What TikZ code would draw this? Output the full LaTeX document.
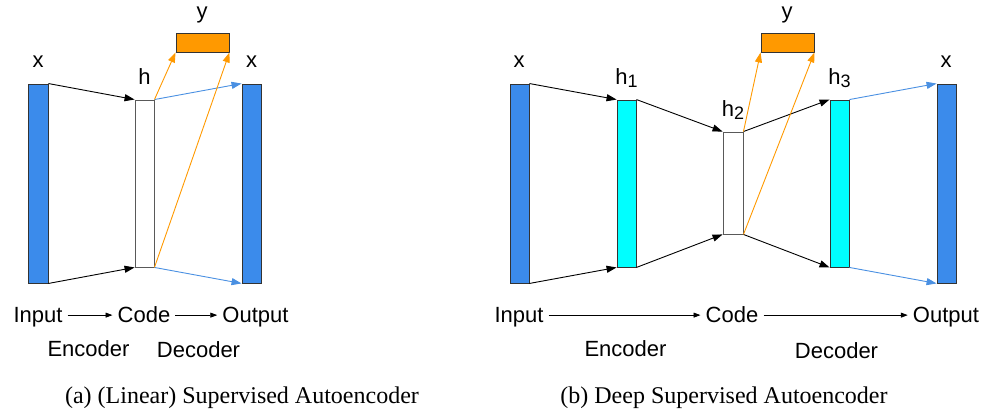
\documentclass[tikz,border=0pt]{standalone}
\usepackage{fontspec}
\setmainfont{Liberation Serif}
\newfontfamily\lsans{Liberation Sans}
\usetikzlibrary{arrows.meta}
\definecolor{barblue}{RGB}{59,139,235}
\definecolor{arrblue}{RGB}{74,144,226}
\definecolor{ora}{RGB}{255,153,0}
\definecolor{cyanb}{RGB}{0,255,255}
\newcommand{\sbs}[1]{{\fontsize{18}{18}\selectfont\raisebox{-3pt}{#1}}}
\begin{document}
\begin{tikzpicture}[x=1pt,y=-1pt,
  bar/.style={draw=black!80,line width=0.9pt,inner sep=0pt,minimum width=19pt},
  inbar/.style={bar,fill=barblue,minimum height=199pt},
  hid/.style={bar,fill=cyanb,minimum height=167pt},
  codebox/.style={bar,draw=black!65,fill=white},
  ybox/.style={bar,fill=ora,minimum width=53pt,minimum height=19pt},
  lbl/.style={font=\lsans\fontsize{22}{22}\selectfont,inner sep=0pt,anchor=base},
  btxt/.style={font=\lsans\fontsize{22}{22}\selectfont,inner ysep=0pt,inner xsep=5pt,text height=15.75pt,text depth=0pt,anchor=base},
  captxt/.style={font=\fontsize{24}{24}\selectfont,inner sep=0pt,anchor=base},
  blk/.style={draw=black,line width=0.9pt,-{Triangle[length=10pt,width=7pt]}},
  blu/.style={draw=arrblue,line width=0.9pt,-{Triangle[length=10pt,width=7pt]}},
  org/.style={draw=ora,line width=0.9pt,-{Triangle[length=10pt,width=7pt]}},
  barr/.style={draw=black,line width=0.8pt,-{Triangle[length=7pt,width=5pt]}}
]
\useasboundingbox (0,0) rectangle (984,411);
% ---------- panel (a) ----------
\node[inbar,minimum width=20pt] (ainp) at (38,183.5) {};
\node[codebox,minimum height=167pt] (ah) at (144.5,183.5) {};
\node[ybox] (ay) at (202.5,42.5) {};
\node[inbar] (aout) at (251.5,183.5) {};
\draw[blk] (ainp.north east) -- (ah.north west);
\draw[blk] (ainp.south east) -- (ah.south west);
\draw[blu] (ah.north east) -- (aout.north west);
\draw[blu] (ah.south east) -- (aout.south west);
\draw[org] (ah.north east) -- (ay.south west);
\draw[org] (ah.south east) -- (ay.south east);
\node[lbl] (axl) at (38,68) {x};
\node[lbl] (ahl) at (144.5,85) {h};
\node[lbl] (ayl) at (202,18.5) {y};
\node[lbl] (axr) at (251.5,68) {x};
\node[btxt] (ainT) at (38,323) {Input};
\node[btxt] (acoT) at (144,323) {Code};
\node[btxt] (aouT) at (255.5,323) {Output};
\draw[barr] (ainT.east) -- (acoT.west);
\draw[barr] (acoT.east) -- (aouT.west);
\node[lbl] (aenc) at (88.5,356) {Encoder};
\node[lbl] (adec) at (198.5,357) {Decoder};
\node[captxt] (acap) at (242,403) {(a) (Linear) Supervised Autoencoder};
% ---------- panel (b) ----------
\node[inbar] (binp) at (519.5,183.5) {};
\node[hid] (bh1) at (626.5,183.5) {};
\node[codebox,minimum width=20pt,minimum height=102pt] (bh2) at (733,183) {};
\node[hid] (bh3) at (839.5,183.5) {};
\node[ybox] (by) at (787.5,42.5) {};
\node[inbar] (bout) at (946.5,183.5) {};
\draw[blk] (binp.north east) -- (bh1.north west);
\draw[blk] (binp.south east) -- (bh1.south west);
\draw[blk] (bh1.north east) -- (bh2.north west);
\draw[blk] (bh1.south east) -- (bh2.south west);
\draw[blk] (bh2.north east) -- (bh3.north west);
\draw[blk] (bh2.south east) -- (bh3.south west);
\draw[blu] (bh3.north east) -- (bout.north west);
\draw[blu] (bh3.south east) -- (bout.south west);
\draw[org] (bh2.north east) -- (by.south west);
\draw[org] (bh2.south east) -- (by.south east);
\node[lbl] (bxl) at (519,68) {x};
\node[lbl] (bh1l) at (626.5,85) {h\sbs{1}};
\node[lbl] (bh2l) at (733,117) {h\sbs{2}};
\node[lbl] (bh3l) at (839.5,85) {h\sbs{3}};
\node[lbl] (byl) at (787,18.5) {y};
\node[lbl] (bxr) at (946,68) {x};
\node[btxt] (binT) at (519,323) {Input};
\node[btxt] (bcoT) at (732,323) {Code};
\node[btxt] (bouT) at (946,323) {Output};
\draw[barr] (binT.east) -- (bcoT.west);
\draw[barr] (bcoT.east) -- (bouT.west);
\node[lbl] (benc) at (625.5,356) {Encoder};
\node[lbl] (bdec) at (836.5,358) {Decoder};
\node[captxt] (bcap) at (724,403) {(b) Deep Supervised Autoencoder};
\end{tikzpicture}
\end{document}
